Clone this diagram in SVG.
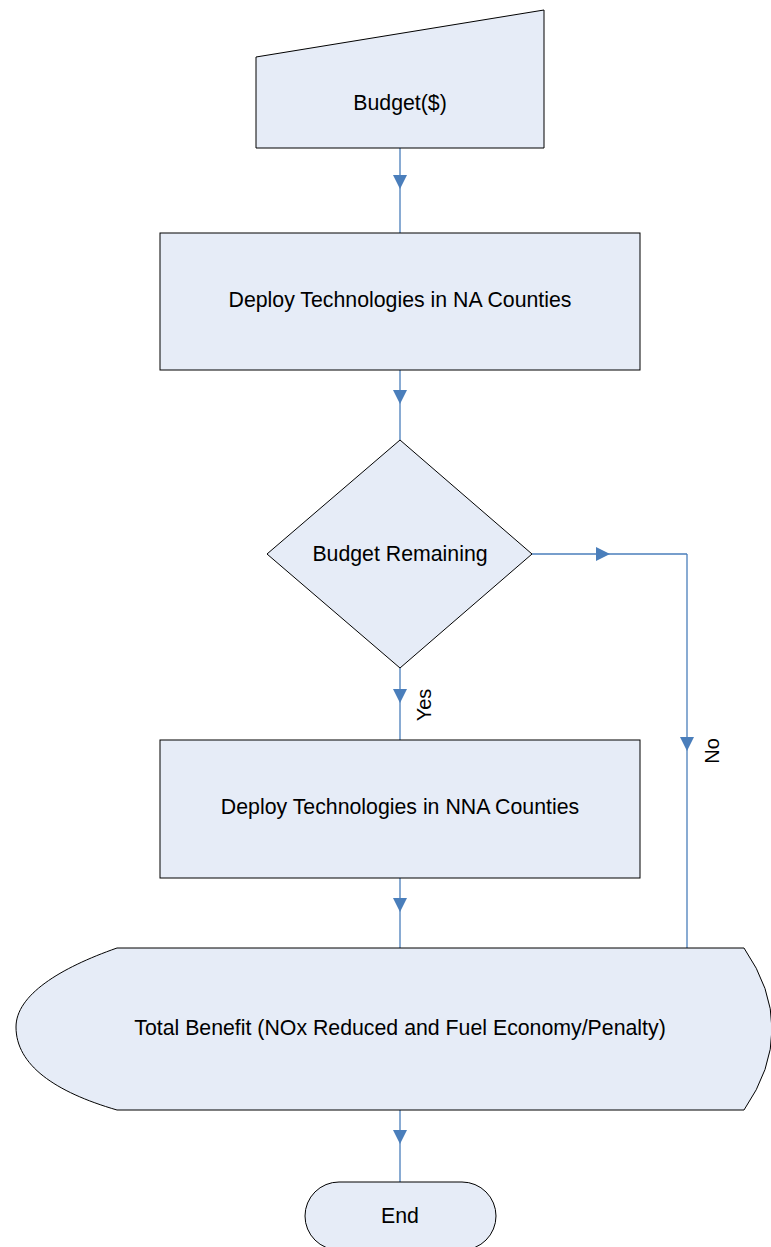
<svg xmlns="http://www.w3.org/2000/svg" width="771" height="1247" viewBox="0 0 771 1247">
<defs>
<style>
.shape{fill:#E6ECF7;stroke:#000;stroke-width:1}
.lbl{font-family:"Liberation Sans",Arial,sans-serif;font-size:21.3px;fill:#000;text-anchor:middle}
.sm{font-family:"Liberation Sans",Arial,sans-serif;font-size:20px;fill:#000;text-anchor:middle}
.conn{fill:none;stroke:#4A7EBB;stroke-width:1.3;marker-mid:url(#ah)}
</style>
<marker id="ah" viewBox="0 0 14 14" refX="14" refY="7" markerWidth="14" markerHeight="14" markerUnits="userSpaceOnUse" orient="auto">
<path d="M0,0 L14,7 L0,14 Z" fill="#4A7EBB"/>
</marker>
</defs>
<rect width="771" height="1247" fill="#fff"/>
<g id="connectors">
<path class="conn" d="M400,148 L400,189 L400,233"/>
<path class="conn" d="M400,370 L400,404 L400,440"/>
<path class="conn" d="M400,668 L400,703 L400,740"/>
<path class="conn" d="M532,554 L610,554 L687,554"/>
<path class="conn" d="M687,554 L687,751 L687,948"/>
<path class="conn" d="M400,878 L400,912 L400,948"/>
<path class="conn" d="M400,1110 L400,1144 L400,1182"/>
<text class="sm" transform="translate(431,705) rotate(-90)">Yes</text>
<text class="sm" transform="translate(719,751) rotate(-90)">No</text>
</g>
<g id="budget">
<path class="shape" d="M256,57 L544,10 L544,148 L256,148 Z"/>
<text class="lbl" x="400" y="110">Budget($)</text>
</g>
<g id="deploy-na">
<rect class="shape" x="160" y="233" width="480" height="137"/>
<text class="lbl" x="400" y="307">Deploy Technologies in NA Counties</text>
</g>
<g id="decision">
<path class="shape" d="M400,440 L532,554 L400,668 L267,554 Z"/>
<text class="lbl" x="400" y="561">Budget Remaining</text>
</g>
<g id="deploy-nna">
<rect class="shape" x="160" y="740" width="480" height="138"/>
<text class="lbl" x="400" y="814">Deploy Technologies in NNA Counties</text>
</g>
<g id="total">
<path class="shape" d="M117,948 L744,948 Q800,1029 744,1110 L117,1110 C55,1092 16,1065 16,1027 C16,995 60,968 117,948 Z"/>
<text class="lbl" x="400" y="1035">Total Benefit (NOx Reduced and Fuel Economy/Penalty)</text>
</g>
<g id="end">
<rect class="shape" x="305" y="1182" width="191" height="68" rx="34" ry="34"/>
<text class="lbl" x="400" y="1223">End</text>
</g>
</svg>
